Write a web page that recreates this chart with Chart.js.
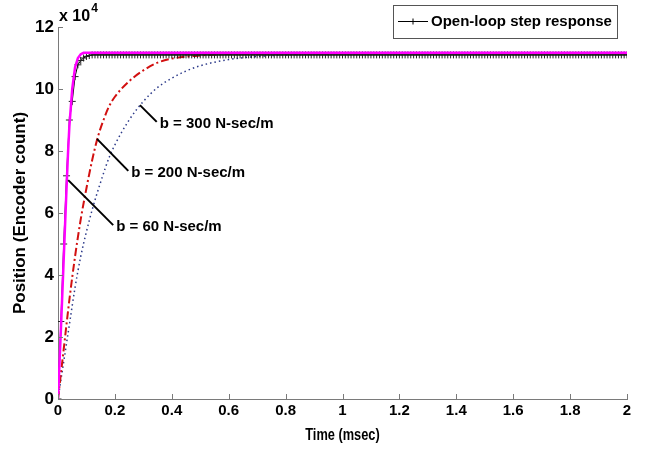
<!DOCTYPE html>
<html>
<head>
<meta charset="utf-8">
<script src="https://cdn.jsdelivr.net/npm/chart.js@4.4.0/dist/chart.umd.min.js"></script>
<style>
  html, body { margin: 0; padding: 0; background: #fff; }
  canvas { display: block; }
</style>
</head>
<body>
<canvas id="stepChart" width="649" height="449"></canvas>
<script>
// Valeurs (position en unites de 10^4, temps en ms)

// Reponse en boucle ouverte (marqueurs +)
const openLoopTime = [
    0, 0.01, 0.02, 0.03, 0.04, 0.05, 0.06, 0.07, 0.08, 0.09,
    0.1, 0.11, 0.12, 0.13, 0.14, 0.15, 0.16, 0.17, 0.18, 0.19,
    0.2, 0.21, 0.22, 0.23, 0.24, 0.25, 0.26, 0.27, 0.28, 0.29,
    0.3, 0.31, 0.32, 0.33, 0.34, 0.35, 0.36, 0.37, 0.38, 0.39,
    0.4, 0.41, 0.42, 0.43, 0.44, 0.45, 0.46, 0.47, 0.48, 0.49,
    0.5, 0.51, 0.52, 0.53, 0.54, 0.55, 0.56, 0.57, 0.58, 0.59,
    0.6, 0.61, 0.62, 0.63, 0.64, 0.65, 0.66, 0.67, 0.68, 0.69,
    0.7, 0.71, 0.72, 0.73, 0.74, 0.75, 0.76, 0.77, 0.78, 0.79,
    0.8, 0.81, 0.82, 0.83, 0.84, 0.85, 0.86, 0.87, 0.88, 0.89,
    0.9, 0.91, 0.92, 0.93, 0.94, 0.95, 0.96, 0.97, 0.98, 0.99,
    1, 1.01, 1.02, 1.03, 1.04, 1.05, 1.06, 1.07, 1.08, 1.09,
    1.1, 1.11, 1.12, 1.13, 1.14, 1.15, 1.16, 1.17, 1.18, 1.19,
    1.2, 1.21, 1.22, 1.23, 1.24, 1.25, 1.26, 1.27, 1.28, 1.29,
    1.3, 1.31, 1.32, 1.33, 1.34, 1.35, 1.36, 1.37, 1.38, 1.39,
    1.4, 1.41, 1.42, 1.43, 1.44, 1.45, 1.46, 1.47, 1.48, 1.49,
    1.5, 1.51, 1.52, 1.53, 1.54, 1.55, 1.56, 1.57, 1.58, 1.59,
    1.6, 1.61, 1.62, 1.63, 1.64, 1.65, 1.66, 1.67, 1.68, 1.69,
    1.7, 1.71, 1.72, 1.73, 1.74, 1.75, 1.76, 1.77, 1.78, 1.79,
    1.8, 1.81, 1.82, 1.83, 1.84, 1.85, 1.86, 1.87, 1.88, 1.89,
    1.9, 1.91, 1.92, 1.93, 1.94, 1.95, 1.96, 1.97, 1.98, 1.99,
    2
];
const openLoopPos = [
    0, 2.5, 5.0, 7.2, 9.0, 9.6, 10.4, 10.78, 10.92, 11.0,
    11.05, 11.08, 11.1, 11.1, 11.1, 11.1, 11.1, 11.1, 11.1, 11.1,
    11.1, 11.1, 11.1, 11.1, 11.1, 11.1, 11.1, 11.1, 11.1, 11.1,
    11.1, 11.1, 11.1, 11.1, 11.1, 11.1, 11.1, 11.1, 11.1, 11.1,
    11.1, 11.1, 11.1, 11.1, 11.1, 11.1, 11.1, 11.1, 11.1, 11.1,
    11.1, 11.1, 11.1, 11.1, 11.1, 11.1, 11.1, 11.1, 11.1, 11.1,
    11.1, 11.1, 11.1, 11.1, 11.1, 11.1, 11.1, 11.1, 11.1, 11.1,
    11.1, 11.1, 11.1, 11.1, 11.1, 11.1, 11.1, 11.1, 11.1, 11.1,
    11.1, 11.1, 11.1, 11.1, 11.1, 11.1, 11.1, 11.1, 11.1, 11.1,
    11.1, 11.1, 11.1, 11.1, 11.1, 11.1, 11.1, 11.1, 11.1, 11.1,
    11.1, 11.1, 11.1, 11.1, 11.1, 11.1, 11.1, 11.1, 11.1, 11.1,
    11.1, 11.1, 11.1, 11.1, 11.1, 11.1, 11.1, 11.1, 11.1, 11.1,
    11.1, 11.1, 11.1, 11.1, 11.1, 11.1, 11.1, 11.1, 11.1, 11.1,
    11.1, 11.1, 11.1, 11.1, 11.1, 11.1, 11.1, 11.1, 11.1, 11.1,
    11.1, 11.1, 11.1, 11.1, 11.1, 11.1, 11.1, 11.1, 11.1, 11.1,
    11.1, 11.1, 11.1, 11.1, 11.1, 11.1, 11.1, 11.1, 11.1, 11.1,
    11.1, 11.1, 11.1, 11.1, 11.1, 11.1, 11.1, 11.1, 11.1, 11.1,
    11.1, 11.1, 11.1, 11.1, 11.1, 11.1, 11.1, 11.1, 11.1, 11.1,
    11.1, 11.1, 11.1, 11.1, 11.1, 11.1, 11.1, 11.1, 11.1, 11.1,
    11.1, 11.1, 11.1, 11.1, 11.1, 11.1, 11.1, 11.1, 11.1, 11.1,
    11.1
];

// b = 60 N-sec/m (magenta)
const b60Time = [0, 0.01, 0.02, 0.03, 0.035, 0.04, 0.05, 0.06, 0.07, 0.08, 0.09, 2];
const b60Pos  = [0, 2.2, 4.5, 6.8, 7.9, 8.8, 10.0, 10.7, 11.0, 11.12, 11.17, 11.17];

// b = 200 N-sec/m (rouge)
const b200Time = [0, 0.02, 0.04, 0.06, 0.08, 0.1, 0.12, 0.14, 0.16, 0.18, 0.2, 0.25, 0.3, 0.35, 0.4, 0.5, 0.6, 0.8, 2];
const b200Pos  = [0, 1.6, 3.2, 4.6, 5.8, 6.8, 7.7, 8.45, 9.0, 9.45, 9.75, 10.25, 10.6, 10.85, 10.98, 11.08, 11.13, 11.15, 11.15];

// b = 300 N-sec/m (bleu pointille)
const b300Time = [0, 0.02, 0.04, 0.06, 0.08, 0.1, 0.12, 0.15, 0.18, 0.2, 0.25, 0.3, 0.35, 0.4, 0.45, 0.5, 0.6, 0.7, 0.8, 1, 2];
const b300Pos  = [0, 1.2, 2.4, 3.6, 4.6, 5.4, 6.1, 7.0, 7.8, 8.2, 9.0, 9.6, 10.05, 10.35, 10.58, 10.75, 10.95, 11.05, 11.1, 11.14, 11.15];

// Graduations
const xTicks = [0, 0.2, 0.4, 0.6, 0.8, 1, 1.2, 1.4, 1.6, 1.8, 2];
const yTicks = [0, 2, 4, 6, 8, 10, 12];

// Annotations : point sur la courbe -> bout du trait (coordonnees donnees)
const notes = [
    { text: 'b = 300 N-sec/m', from: [0.288, 9.48], to: [0.347, 8.94] },
    { text: 'b = 200 N-sec/m', from: [0.137, 8.39], to: [0.247, 7.36] },
    { text: 'b = 60 N-sec/m',  from: [0.036, 7.06], to: [0.194, 5.61] }
];

const FONT = '"Liberation Sans", Arial, sans-serif';
const AXIS_COLOR = '#7a7a7a';

function toPoints(xs, ys) {
    return xs.map((t, i) => ({ x: t, y: ys[i] }));
}

// Plugin pour les ticks vers l'interieur, annotations, legende et titres
const decorPlugin = {
    id: 'decor',
    afterDraw(chart) {
        const ctx = chart.ctx;
        const xs = chart.scales.x;
        const ys = chart.scales.y;
        const area = chart.chartArea;
        ctx.save();

        // ticks vers l'interieur
        ctx.strokeStyle = AXIS_COLOR;
        ctx.lineWidth = 1;
        xTicks.forEach(v => {
            const px = Math.round(xs.getPixelForValue(v)) + 0.5;
            ctx.beginPath();
            ctx.moveTo(px, area.bottom);
            ctx.lineTo(px, area.bottom - 5);
            ctx.stroke();
        });
        yTicks.forEach(v => {
            const py = Math.round(ys.getPixelForValue(v)) + 0.5;
            ctx.beginPath();
            ctx.moveTo(area.left, py);
            ctx.lineTo(area.left + 5, py);
            ctx.stroke();
        });

        // facteur d'echelle "x 10^4"
        ctx.fillStyle = '#000';
        ctx.textBaseline = 'middle';
        ctx.textAlign = 'left';
        ctx.font = 'bold 16px ' + FONT;
        ctx.fillText('x 10', 59, 17);
        const w = ctx.measureText('x 10').width;
        ctx.font = 'bold 12px ' + FONT;
        ctx.fillText('4', 59 + w + 1, 9);

        // annotations
        notes.forEach(n => {
            const x1 = xs.getPixelForValue(n.from[0]);
            const y1 = ys.getPixelForValue(n.from[1]);
            const x2 = xs.getPixelForValue(n.to[0]);
            const y2 = ys.getPixelForValue(n.to[1]);
            ctx.strokeStyle = '#000';
            ctx.lineWidth = 2;
            ctx.beginPath();
            ctx.moveTo(x1, y1);
            ctx.lineTo(x2, y2);
            ctx.stroke();
            ctx.font = 'bold 15px ' + FONT;
            ctx.fillText(n.text, x2 + 3, y2 + 2);
        });

        // legende
        ctx.strokeStyle = '#555';
        ctx.lineWidth = 1;
        ctx.fillStyle = '#fff';
        ctx.fillRect(393.5, 5.5, 224, 33);
        ctx.strokeRect(393.5, 5.5, 224, 33);
        ctx.strokeStyle = '#000';
        ctx.beginPath();
        ctx.moveTo(398, 21.5);
        ctx.lineTo(428, 21.5);
        ctx.moveTo(413, 18.5);
        ctx.lineTo(413, 24.5);
        ctx.stroke();
        ctx.fillStyle = '#000';
        ctx.font = 'bold 15px ' + FONT;
        ctx.fillText('Open-loop step response', 431, 22);

        // titres des axes (texte un peu etroit comme l'original)
        ctx.textAlign = 'center';
        ctx.font = 'bold 16px ' + FONT;
        ctx.save();
        ctx.translate((area.left + area.right) / 2, 436);
        ctx.scale(0.8, 1);
        ctx.fillText('Time (msec)', 0, 0);
        ctx.restore();
        ctx.translate(20, 213);
        ctx.rotate(-Math.PI / 2);
        ctx.font = 'bold 17px ' + FONT;
        ctx.fillText('Position (Encoder count)', 0, 0);

        ctx.restore();
    }
};

const ctx = document.getElementById('stepChart').getContext('2d');
new Chart(ctx, {
    type: 'line',
    data: {
        datasets: [
            {
                label: 'b = 60 N-sec/m',
                data: toPoints(b60Time, b60Pos),
                borderColor: '#ff00ff',
                borderWidth: 2.5,
                pointRadius: 0,
                order: 0
            },
            {
                label: 'Open-loop step response',
                data: toPoints(openLoopTime, openLoopPos),
                borderColor: '#000',
                borderWidth: 1,
                pointStyle: 'cross',
                pointRadius: 3.5,
                pointBorderWidth: 1,
                pointBorderColor: '#222',
                order: 1
            },
            {
                label: 'b = 200 N-sec/m',
                data: toPoints(b200Time, b200Pos),
                borderColor: '#d21010',
                borderWidth: 2,
                borderDash: [8, 3, 2, 3],
                pointRadius: 0,
                cubicInterpolationMode: 'monotone',
                order: 2
            },
            {
                label: 'b = 300 N-sec/m',
                data: toPoints(b300Time, b300Pos),
                borderColor: '#2c3a8a',
                borderWidth: 1.5,
                borderDash: [1.5, 3],
                pointRadius: 0,
                cubicInterpolationMode: 'monotone',
                order: 3
            }
        ]
    },
    options: {
        responsive: false,
        animation: false,
        devicePixelRatio: 1,
        layout: { padding: { top: 27, right: 22, left: 0, bottom: 0 } },
        plugins: {
            legend: { display: false },
            tooltip: { enabled: false }
        },
        elements: { line: { tension: 0, fill: false } },
        scales: {
            x: {
                type: 'linear',
                min: 0,
                max: 2,
                afterBuildTicks: s => { s.ticks = xTicks.map(v => ({ value: v })); },
                afterFit: s => { s.height = 50; },
                grid: { display: false, drawTicks: false },
                border: { display: true, color: AXIS_COLOR, width: 1 },
                ticks: {
                    color: '#000',
                    padding: 3,
                    maxRotation: 0,
                    callback: v => String(v),
                    font: { family: FONT, size: 15, weight: 'bold' }
                }
            },
            y: {
                type: 'linear',
                min: 0,
                max: 12,
                afterBuildTicks: s => { s.ticks = yTicks.map(v => ({ value: v })); },
                afterFit: s => { s.width = 58; },
                grid: { display: false, drawTicks: false },
                border: { display: true, color: AXIS_COLOR, width: 1 },
                ticks: {
                    color: '#000',
                    padding: 4,
                    callback: v => String(v),
                    font: { family: FONT, size: 17, weight: 'bold' }
                }
            }
        }
    },
    plugins: [decorPlugin]
});
</script>
</body>
</html>
